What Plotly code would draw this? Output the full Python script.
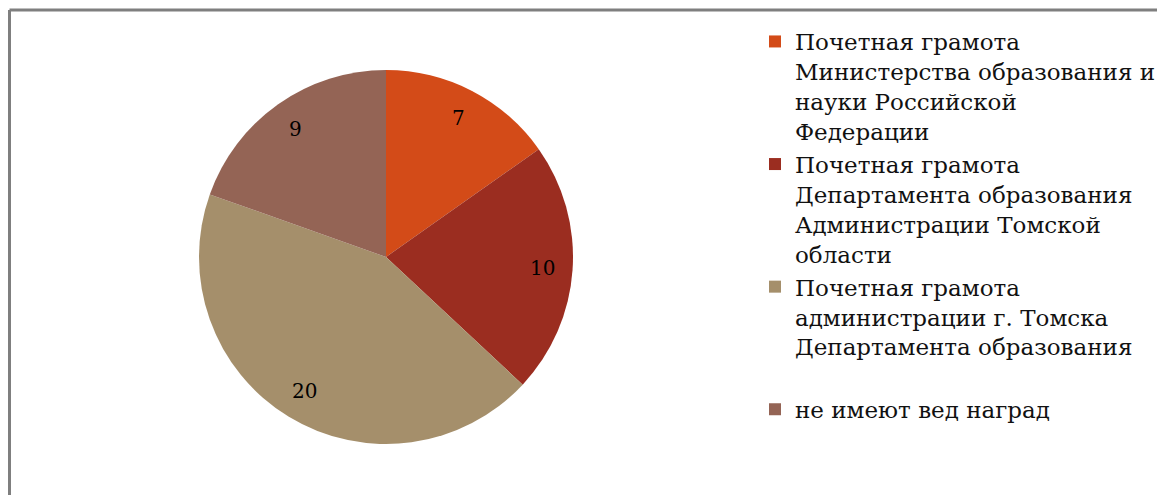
import math
import plotly.graph_objects as go

labels = [
    'Почетная грамота<br>Министерства образования и<br>науки Российской<br>Федерации',
    'Почетная грамота<br>Департамента образования<br>Администрации Томской<br>области',
    'Почетная грамота<br>администрации г. Томска<br>Департамента образования<br> ',
    'не имеют вед наград',
]
values = [7, 10, 20, 9]
colors = ['#D34B18', '#9B2D20', '#A58F6B', '#946455']

W, H = 1165, 495
cx, cy, r = 378, 249, 187  # центр и радиус круга в пикселях

fig = go.Figure()
fig.add_trace(go.Pie(
    labels=labels, values=values,
    marker=dict(colors=colors, line=dict(color='white', width=0)),
    sort=False, direction='clockwise', rotation=0,
    textinfo='none',
    domain=dict(x=[(cx - r) / W, (cx + r) / W], y=[1 - (cy + r) / H, 1 - (cy - r) / H]),
    hoverinfo='label+value',
))

# подписи значений на 0.84 радиуса по середине сектора
total = sum(values)
acc = 0
for v in values:
    mid = (acc + v / 2) / total * 2 * math.pi
    acc += v
    fig.add_annotation(
        x=(cx + 0.84 * r * math.sin(mid)) / W,
        y=1 - (cy - 0.84 * r * math.cos(mid)) / H,
        xref='paper', yref='paper', xanchor='center', yanchor='middle',
        text=str(v), showarrow=False,
        font=dict(family='DejaVu Serif', size=20, color='black'),
    )

# рамка области диаграммы (только сверху и слева)
fig.add_shape(type='line', xref='paper', yref='paper',
              x0=1.5 / W, y0=0, x1=1.5 / W, y1=1 - 2 / H,
              line=dict(color='#7f7f7f', width=3))
fig.add_shape(type='line', xref='paper', yref='paper',
              x0=1.5 / W, y0=1 - 2 / H, x1=1, y1=1 - 2 / H,
              line=dict(color='#7f7f7f', width=3))

fig.update_layout(
    width=W, height=H,
    margin=dict(l=0, r=0, t=0, b=0),
    paper_bgcolor='white',
    showlegend=True,
    legend=dict(x=747 / W, y=1 - 12 / H, xanchor='left', yanchor='top',
                valign='top', bgcolor='rgba(0,0,0,0)',
                font=dict(family='DejaVu Serif', size=23, color='#111111'),
                itemsizing='constant'),
)

fig.write_html('out.html')
